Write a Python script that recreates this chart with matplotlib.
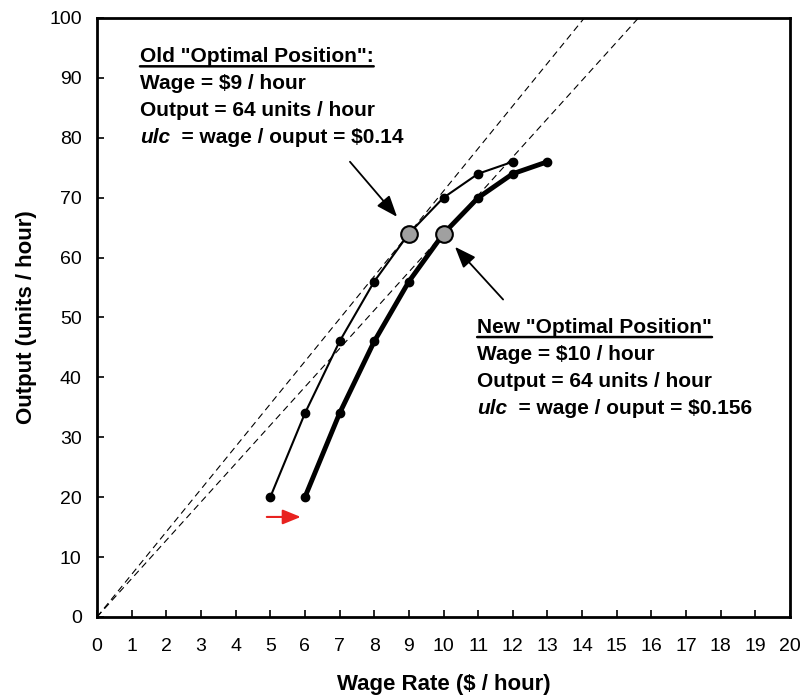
import numpy as np
import matplotlib.pyplot as plt

plt.rcParams['font.family'] = ['Liberation Sans', 'DejaVu Sans']

# data
wage_old = [5, 6, 7, 8, 9, 10, 11, 12]
wage_new = [6, 7, 8, 9, 10, 11, 12, 13]
output = [20, 34, 46, 56, 64, 70, 74, 76]
opt_old = (9, 64)
opt_new = (10, 64)
ray_x = [0, 20]

fig = plt.figure(figsize=(8.05, 7), dpi=100)
ax = fig.add_axes([0.1205, 0.1186, 0.8609, 0.8557])

# rays from origin (ulc lines)
for w, q in (opt_old, opt_new):
    ax.plot(ray_x, [x * q / w for x in ray_x], color='black', lw=0.8,
            dashes=(6, 4), zorder=1)

ax.plot(wage_old, output, '-o', color='black', lw=1.5, ms=6, zorder=3)
ax.plot(wage_new, output, '-o', color='black', lw=3.5, ms=6, zorder=3)

for w, q in (opt_old, opt_new):
    ax.plot(w, q, 'o', ms=12, mfc='#a0a0a0', mec='black', mew=1.5, zorder=4)

# arrows
arr = dict(arrowstyle='-|>,head_length=1.3,head_width=0.5', color='black', lw=1.3,
           shrinkA=0, shrinkB=0)
ax.annotate('', xy=(8.66, 66.8), xytext=(7.3, 76.0), arrowprops=arr)
ax.annotate('', xy=(10.33, 61.8), xytext=(11.72, 53.0), arrowprops=arr)
ax.annotate('', xy=(5.88, 16.7), xytext=(4.9, 16.7),
            arrowprops=dict(arrowstyle='-|>,head_length=1.1,head_width=0.45',
                            color='#e8221f', lw=1.5, shrinkA=0, shrinkB=0))

FS = 15


def block(x, y, head, lines, ulc):
    dy = 4.5
    t = ax.text(x, y, head, fontsize=FS, fontweight='bold', va='baseline')
    ax.annotate('', xy=(0, 0), xycoords=t, xytext=(1, 0), textcoords=t,
                arrowprops=dict(arrowstyle='-', lw=1.8, shrinkA=0, shrinkB=0))
    for i, s in enumerate(lines):
        ax.text(x, y - dy * (i + 1), s, fontsize=FS, fontweight='bold',
                va='baseline')
    u = ax.text(x, y - dy * (len(lines) + 1), 'ulc', fontsize=FS,
                fontweight='bold', style='italic', va='baseline')
    ax.annotate('  = wage / ouput = ' + ulc, xy=(1, 0), xycoords=u,
                fontsize=FS, fontweight='bold', va='bottom')


block(1.24, 92.6, 'Old "Optimal Position":',
      ['Wage = $9 / hour', 'Output = 64 units / hour'], '$0.14')
block(10.97, 47.4, 'New "Optimal Position"',
      ['Wage = $10 / hour', 'Output = 64 units / hour'], '$0.156')

ax.set_xlim(0, 20)
ax.set_ylim(0, 100)
ax.set_xticks(np.arange(0, 21, 1))
ax.set_yticks(np.arange(0, 101, 10))
ax.tick_params(direction='in', length=5, width=1.2, labelsize=14)
ax.tick_params(axis='x', pad=15)
ax.tick_params(axis='y', pad=11)
for sp in ax.spines.values():
    sp.set_linewidth(2)
ax.set_xlabel('Wage Rate ($ / hour)', fontsize=16, fontweight='bold', labelpad=14)
ax.set_ylabel('Output (units / hour)', fontsize=16, fontweight='bold', labelpad=9)

fig.savefig('out.png', dpi=100)
